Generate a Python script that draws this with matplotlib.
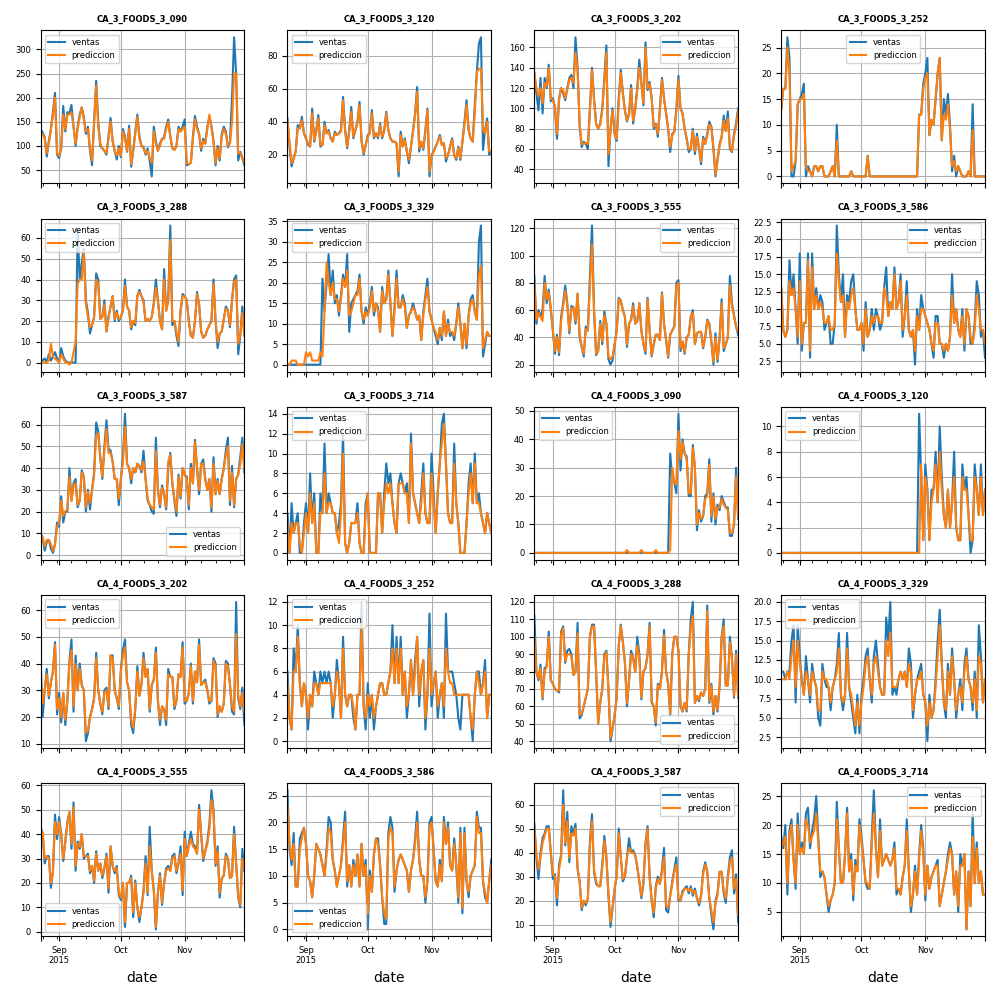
import matplotlib
matplotlib.use('Agg')
import matplotlib.pyplot as plt
import pandas as pd

plt.rcParams['xtick.labelsize'] = 6
plt.rcParams['ytick.labelsize'] = 6
plt.rcParams['legend.fontsize'] = 6

fechas = pd.date_range('2015-08-23', periods=100, freq='D')

productos = ['CA_3_FOODS_3_090', 'CA_3_FOODS_3_120', 'CA_3_FOODS_3_202', 'CA_3_FOODS_3_252',
             'CA_3_FOODS_3_288', 'CA_3_FOODS_3_329', 'CA_3_FOODS_3_555', 'CA_3_FOODS_3_586',
             'CA_3_FOODS_3_587', 'CA_3_FOODS_3_714', 'CA_4_FOODS_3_090', 'CA_4_FOODS_3_120',
             'CA_4_FOODS_3_202', 'CA_4_FOODS_3_252', 'CA_4_FOODS_3_288', 'CA_4_FOODS_3_329',
             'CA_4_FOODS_3_555', 'CA_4_FOODS_3_586', 'CA_4_FOODS_3_587', 'CA_4_FOODS_3_714']

# ventas reales / prediccion del modelo, 100 dias cada una
ventas_ca3_090 = [135, 128, 118, 78, 110, 135, 170, 210, 82, 75,
                  95, 183, 130, 170, 168, 185, 140, 100, 140, 165,
                  180, 160, 125, 140, 90, 60, 150, 235, 150, 100,
                  95, 90, 82, 120, 158, 110, 90, 72, 100, 77,
                  135, 120, 88, 142, 57, 90, 130, 165, 120, 100,
                  98, 82, 95, 70, 37, 140, 110, 90, 105, 115,
                  118, 140, 155, 120, 95, 92, 100, 140, 130, 140,
                  155, 60, 62, 65, 120, 162, 140, 125, 90, 115,
                  105, 140, 160, 140, 110, 60, 100, 70, 125, 140,
                  130, 97, 108, 200, 325, 250, 70, 88, 75, 60]
pred_ca3_090 = [120, 125, 115, 85, 105, 135, 165, 200, 85, 80,
                95, 165, 135, 165, 165, 170, 140, 105, 135, 160,
                180, 155, 130, 135, 95, 70, 150, 225, 140, 105,
                95, 90, 85, 115, 150, 110, 90, 80, 95, 80,
                130, 115, 90, 135, 62, 90, 125, 160, 115, 100,
                95, 85, 90, 75, 65, 130, 105, 90, 100, 115,
                115, 135, 150, 120, 95, 92, 100, 135, 130, 135,
                140, 65, 62, 65, 115, 155, 135, 125, 95, 110,
                105, 135, 165, 140, 110, 65, 95, 75, 120, 135,
                125, 100, 105, 150, 250, 250, 85, 85, 75, 65]

ventas_ca3_120 = [42, 25, 13, 18, 22, 38, 36, 43, 33, 30,
                  26, 25, 48, 28, 35, 44, 25, 26, 40, 33,
                  35, 30, 28, 34, 32, 33, 35, 55, 35, 24,
                  35, 49, 30, 35, 40, 52, 28, 20, 26, 32,
                  33, 47, 30, 33, 30, 39, 30, 35, 46, 35,
                  30, 28, 28, 27, 7, 34, 25, 30, 22, 15,
                  25, 35, 45, 61, 22, 28, 23, 35, 48, 7,
                  20, 22, 25, 28, 32, 26, 27, 16, 20, 25,
                  30, 20, 17, 25, 17, 28, 40, 53, 35, 30,
                  28, 50, 70, 87, 91, 23, 35, 42, 20, 22]
pred_ca3_120 = [40, 28, 15, 18, 22, 36, 36, 41, 33, 30,
                27, 25, 45, 29, 34, 42, 26, 26, 38, 33,
                34, 30, 28, 33, 32, 33, 34, 53, 35, 25,
                34, 46, 31, 35, 39, 50, 29, 21, 26, 31,
                33, 45, 31, 33, 31, 38, 31, 34, 45, 35,
                30, 28, 28, 27, 10, 32, 25, 29, 22, 17,
                25, 34, 44, 58, 24, 28, 24, 34, 47, 10,
                19, 22, 25, 28, 31, 26, 27, 18, 20, 25,
                29, 20, 18, 24, 18, 28, 38, 50, 35, 30,
                28, 45, 70, 72, 72, 35, 33, 40, 22, 22]

ventas_ca3_202 = [135, 115, 98, 130, 95, 130, 120, 143, 107, 110,
                  100, 70, 110, 120, 115, 108, 120, 130, 133, 120,
                  170, 140, 83, 62, 67, 65, 60, 100, 140, 110,
                  85, 80, 85, 100, 130, 162, 43, 80, 100, 75,
                  68, 110, 138, 115, 98, 87, 95, 123, 85, 100,
                  120, 148, 125, 103, 165, 118, 126, 110, 80, 85,
                  72, 100, 130, 110, 95, 80, 57, 75, 77, 100,
                  132, 100, 95, 80, 70, 57, 60, 80, 55, 75,
                  60, 45, 72, 65, 75, 87, 82, 60, 33, 50,
                  65, 72, 93, 78, 97, 60, 57, 75, 85, 100]
pred_ca3_202 = [135, 120, 112, 120, 105, 125, 122, 140, 110, 108,
                102, 75, 108, 120, 118, 110, 118, 128, 130, 125,
                155, 138, 85, 65, 65, 66, 65, 98, 138, 108,
                85, 80, 84, 98, 125, 155, 55, 78, 98, 75,
                70, 105, 135, 115, 98, 88, 93, 120, 88, 98,
                118, 140, 125, 105, 160, 120, 124, 110, 82, 84,
                75, 98, 128, 110, 95, 80, 62, 73, 77, 98,
                128, 100, 95, 80, 70, 60, 60, 78, 58, 72,
                62, 48, 70, 65, 73, 84, 82, 62, 35, 48,
                63, 72, 88, 78, 90, 62, 58, 73, 82, 98]

ventas_ca3_252 = [13, 17, 17, 27, 23, 0, 0, 3, 14, 15,
                  16, 18, 0, 2, 1, 0, 2, 2, 1, 2,
                  2, 0, 0, 0, 1, 2, 0, 10, 0, 0,
                  0, 0, 0, 0, 1, 0, 0, 0, 0, 0,
                  0, 0, 4, 0, 0, 0, 0, 0, 0, 0,
                  0, 0, 0, 0, 0, 0, 0, 0, 0, 0,
                  0, 0, 0, 0, 0, 0, 0, 12, 12, 18,
                  20, 23, 8, 11, 10, 15, 20, 23, 7, 15,
                  12, 16, 10, 1, 4, 0, 2, 1, 0, 0,
                  0, 1, 0, 14, 0, 0, 0, 0, 0, 0]
pred_ca3_252 = [13, 17, 17, 25, 20, 1, 2, 3, 14, 15,
                15, 16, 2, 1, 1, 0, 2, 2, 1, 2,
                2, 0, 0, 0, 1, 2, 0, 7, 0, 0,
                0, 0, 0, 0, 1, 0, 0, 0, 0, 0,
                0, 0, 4, 0, 0, 0, 0, 0, 0, 0,
                0, 0, 0, 0, 0, 0, 0, 0, 0, 0,
                0, 0, 0, 0, 0, 0, 0, 12, 12, 17,
                19, 20, 8, 11, 10, 15, 20, 23, 7, 12,
                11, 14, 9, 2, 3, 1, 2, 1, 0, 0,
                0, 1, 0, 9, 0, 0, 0, 0, 0, 0]

ventas_ca3_288 = [0, 1, 2, 0, 4, 1, 3, 5, 2, 0,
                  7, 3, 1, 0, 0, 0, 0, 0, 64, 40,
                  48, 55, 30, 24, 14, 18, 22, 43, 40, 21,
                  22, 30, 15, 22, 27, 32, 20, 25, 20, 22,
                  25, 40, 27, 25, 16, 20, 18, 32, 35, 32,
                  30, 20, 21, 20, 22, 29, 40, 30, 20, 16,
                  45, 25, 30, 66, 18, 20, 13, 8, 25, 33,
                  32, 30, 20, 13, 12, 20, 34, 28, 15, 12,
                  13, 16, 18, 20, 40, 20, 7, 14, 15, 21,
                  27, 25, 17, 30, 40, 42, 4, 13, 27, 13]
pred_ca3_288 = [1, 0, 0, 0, 1, 9, 3, 2, 1, 0,
                4, 2, 0, 0, -1, 0, 5, 10, 38, 40,
                40, 53, 28, 22, 17, 18, 22, 40, 38, 21,
                22, 28, 15, 22, 27, 32, 21, 24, 21, 22,
                25, 37, 27, 25, 17, 20, 19, 32, 34, 32,
                29, 20, 21, 20, 22, 28, 36, 30, 20, 16,
                40, 25, 30, 59, 20, 20, 15, 10, 25, 32,
                32, 30, 20, 13, 12, 20, 33, 28, 15, 12,
                13, 16, 18, 20, 38, 20, 10, 14, 15, 21,
                26, 25, 18, 30, 39, 40, 9, 13, 24, 13]

ventas_ca3_329 = [0, 0, 0, 0, 0, 0, 0, 0, 0, 0,
                  0, 0, 0, 0, 0, 0, 0, 21, 13, 20,
                  27, 17, 23, 15, 17, 12, 17, 22, 19, 27,
                  8, 15, 16, 17, 18, 22, 13, 10, 14, 12,
                  15, 19, 12, 15, 14, 8, 19, 15, 16, 23,
                  15, 7, 14, 23, 14, 14, 17, 15, 9, 12,
                  13, 15, 13, 11, 12, 6, 13, 17, 21, 13,
                  11, 9, 7, 5, 9, 6, 13, 7, 11, 7,
                  8, 6, 10, 15, 10, 4, 10, 4, 12, 16,
                  17, 13, 11, 30, 34, 2, 5, 8, 7, 7]
pred_ca3_329 = [0, 0, 1, 1, 1, 0, 0, 0, 0, 3,
                2, 3, 1, 1, 1, 1, 3, 2, 13, 25,
                20, 17, 20, 16, 16, 13, 16, 21, 19, 23,
                12, 13, 15, 17, 17, 21, 13, 11, 13, 12,
                14, 18, 13, 15, 13, 8, 18, 15, 16, 22,
                15, 7, 13, 21, 14, 14, 16, 14, 9, 12,
                13, 14, 13, 11, 12, 6, 12, 16, 19, 13,
                11, 9, 8, 6, 9, 7, 13, 7, 10, 8,
                8, 7, 10, 14, 10, 4, 10, 5, 12, 15,
                16, 13, 11, 22, 24, 4, 6, 8, 7, 7]

ventas_ca3_555 = [85, 50, 60, 55, 60, 85, 65, 75, 60, 45,
                  28, 42, 27, 55, 65, 78, 65, 43, 63, 62,
                  50, 72, 40, 33, 26, 48, 45, 85, 122, 60,
                  27, 30, 52, 35, 59, 50, 24, 20, 23, 35,
                  45, 69, 67, 60, 55, 33, 50, 53, 65, 50,
                  52, 65, 45, 35, 28, 69, 45, 26, 35, 42,
                  42, 38, 73, 50, 38, 25, 42, 45, 48, 80,
                  82, 30, 37, 28, 40, 42, 55, 60, 35, 43,
                  44, 44, 32, 40, 53, 50, 37, 20, 43, 22,
                  40, 68, 30, 35, 40, 85, 65, 56, 48, 42]
pred_ca3_555 = [80, 53, 58, 55, 52, 80, 68, 73, 62, 45,
                30, 40, 29, 52, 63, 74, 63, 45, 61, 62,
                52, 72, 42, 33, 28, 46, 45, 78, 108, 60,
                28, 30, 50, 37, 56, 50, 26, 24, 26, 35,
                44, 68, 67, 60, 55, 35, 50, 53, 63, 50,
                52, 65, 45, 35, 30, 68, 45, 27, 35, 42,
                42, 38, 72, 50, 38, 26, 42, 45, 48, 78,
                80, 32, 37, 29, 40, 42, 55, 58, 35, 43,
                44, 44, 33, 40, 52, 50, 37, 22, 40, 24,
                38, 65, 32, 35, 40, 78, 63, 56, 48, 44]

ventas_ca3_586 = [13, 7, 6, 7, 17, 12, 15, 10, 5, 18,
                  4, 8, 8, 18, 3, 18, 10, 13, 10, 12,
                  11, 7, 8, 9, 5, 5, 8, 22, 15, 11,
                  15, 6, 12, 11, 14, 15, 10, 7, 7, 8,
                  4, 11, 6, 7, 10, 7, 10, 9, 7, 8,
                  13, 16, 9, 11, 10, 16, 10, 11, 15, 6,
                  9, 14, 7, 6, 7, 2, 10, 7, 12, 10,
                  9, 8, 7, 5, 3, 9, 9, 5, 5, 3,
                  5, 4, 6, 15, 8, 10, 7, 6, 10, 4,
                  10, 9, 5, 5, 8, 14, 12, 6, 7, 3]
pred_ca3_586 = [13, 7, 6, 7, 14, 12, 13, 10, 6, 14,
                5, 8, 8, 17, 4, 16, 10, 12, 10, 11,
                10, 8, 8, 9, 7, 7, 8, 18, 14, 11,
                12, 6, 11, 10, 12, 13, 10, 7, 7, 8,
                5, 10, 6, 7, 9, 8, 9, 9, 8, 8,
                13, 12, 9, 11, 10, 15, 10, 11, 14, 7,
                9, 12, 7, 6, 7, 4, 9, 7, 10, 10,
                9, 8, 7, 5, 4, 8, 8, 5, 5, 4,
                5, 4, 6, 12, 8, 10, 7, 6, 9, 5,
                10, 9, 6, 5, 7, 12, 10, 7, 7, 5]

ventas_ca3_587 = [10, 8, 2, 6, 7, 3, 1, 5, 15, 13,
                  27, 15, 20, 20, 40, 25, 33, 35, 22, 25,
                  39, 36, 20, 30, 21, 30, 38, 61, 57, 45,
                  35, 50, 62, 49, 48, 43, 35, 35, 23, 35,
                  45, 65, 42, 40, 33, 40, 38, 42, 41, 38,
                  48, 35, 25, 23, 20, 19, 54, 30, 22, 32,
                  28, 21, 40, 47, 33, 25, 18, 37, 26, 40,
                  37, 36, 21, 42, 33, 53, 40, 28, 42, 44,
                  35, 30, 35, 20, 45, 28, 35, 28, 35, 40,
                  48, 54, 23, 41, 22, 35, 37, 45, 54, 38]
pred_ca3_587 = [10, 8, 4, 7, 7, 5, 2, 5, 13, 15,
                25, 18, 20, 21, 36, 25, 32, 33, 23, 25,
                38, 36, 22, 29, 24, 30, 37, 55, 56, 45,
                36, 48, 58, 47, 47, 43, 35, 35, 26, 35,
                43, 59, 42, 40, 35, 40, 38, 42, 41, 39,
                43, 35, 26, 23, 22, 21, 48, 30, 23, 31,
                28, 22, 43, 46, 33, 26, 20, 36, 27, 40,
                37, 35, 23, 40, 33, 52, 40, 30, 42, 42,
                35, 30, 35, 22, 42, 28, 34, 28, 35, 40,
                46, 50, 25, 38, 23, 35, 37, 42, 51, 40]

ventas_ca3_714 = [4, 0, 5, 2, 3, 4, 0, 0, 3, 5,
                  2, 8, 3, 6, 0, 0, 6, 4, 11, 4,
                  6, 5, 4, 4, 2, 3, 5, 12, 1, 0,
                  1, 3, 3, 3, 5, 1, 0, 0, 5, 6,
                  0, 0, 0, 0, 6, 6, 2, 6, 9, 7,
                  8, 5, 3, 2, 7, 8, 7, 6, 7, 3,
                  12, 6, 5, 4, 3, 6, 9, 4, 3, 3,
                  10, 6, 2, 6, 9, 13, 14, 9, 4, 3,
                  3, 11, 5, 3, 0, 0, 0, 3, 7, 9,
                  5, 10, 5, 6, 4, 3, 2, 4, 3, 2]
pred_ca3_714 = [3, 0, 3, 2, 3, 3, 1, 0, 2, 4,
                2, 6, 3, 5, 0, 0, 4, 4, 8, 4,
                5, 5, 4, 4, 2, 1, 4, 10, 1, 0,
                1, 3, 3, 3, 4, 1, 0, 0, 4, 6,
                0, 0, 0, 0, 6, 6, 2, 5, 7, 6,
                7, 5, 3, 2, 7, 7, 7, 6, 6, 3,
                11, 6, 5, 4, 3, 5, 8, 4, 3, 3,
                8, 5, 2, 6, 9, 11, 13, 9, 4, 3,
                3, 9, 5, 3, 0, 0, 0, 3, 6, 8,
                5, 9, 5, 5, 4, 3, 2, 4, 3, 2]

ventas_ca4_090 = [0, 0, 0, 0, 0, 0, 0, 0, 0, 0,
                  0, 0, 0, 0, 0, 0, 0, 0, 0, 0,
                  0, 0, 0, 0, 0, 0, 0, 0, 0, 0,
                  0, 0, 0, 0, 0, 0, 0, 0, 0, 0,
                  0, 0, 0, 0, 0, 0, 0, 0, 0, 0,
                  0, 0, 0, 0, 0, 0, 0, 0, 0, 0,
                  0, 0, 0, 0, 0, 0, 35, 26, 25, 21,
                  49, 29, 40, 35, 34, 20, 20, 38, 30, 8,
                  15, 11, 13, 20, 21, 33, 11, 21, 10, 17,
                  15, 20, 18, 16, 16, 6, 6, 10, 30, 12]
pred_ca4_090 = [0, 0, 0, 0, 0, 0, 0, 0, 0, 0,
                0, 0, 0, 0, 0, 0, 0, 0, 0, 0,
                0, 0, 0, 0, 0, 0, 0, 0, 0, 0,
                0, 0, 0, 0, 0, 0, 0, 0, 0, 0,
                0, 0, 0, 0, 0, 1, 0, 0, 0, 0,
                0, 0, 1, 0, 0, 0, 0, 0, 0, 1,
                0, 0, 0, 0, 0, 0, 1, 30, 25, 24,
                43, 33, 39, 35, 33, 21, 21, 37, 30, 10,
                14, 12, 13, 19, 20, 31, 13, 20, 12, 16,
                16, 19, 17, 16, 15, 7, 7, 10, 27, 13]

ventas_ca4_120 = [0, 0, 0, 0, 0, 0, 0, 0, 0, 0,
                  0, 0, 0, 0, 0, 0, 0, 0, 0, 0,
                  0, 0, 0, 0, 0, 0, 0, 0, 0, 0,
                  0, 0, 0, 0, 0, 0, 0, 0, 0, 0,
                  0, 0, 0, 0, 0, 0, 0, 0, 0, 0,
                  0, 0, 0, 0, 0, 0, 0, 0, 0, 0,
                  0, 0, 0, 0, 0, 0, 0, 11, 6, 1,
                  7, 5, 1, 5, 5, 8, 4, 10, 6, 3,
                  2, 5, 2, 4, 8, 2, 1, 1, 7, 5,
                  6, 3, 0, 1, 7, 5, 3, 7, 3, 5]
pred_ca4_120 = [0, 0, 0, 0, 0, 0, 0, 0, 0, 0,
                0, 0, 0, 0, 0, 0, 0, 0, 0, 0,
                0, 0, 0, 0, 0, 0, 0, 0, 0, 0,
                0, 0, 0, 0, 0, 0, 0, 0, 0, 0,
                0, 0, 0, 0, 0, 0, 0, 0, 0, 0,
                0, 0, 0, 0, 0, 0, 0, 0, 0, 0,
                0, 0, 0, 0, 0, 0, 0, 0, 7, 1,
                6, 5, 1, 4, 5, 7, 4, 8, 5, 3,
                2, 5, 2, 4, 6, 2, 1, 1, 6, 5,
                5, 3, 1, 1, 6, 5, 3, 6, 3, 5]

ventas_ca4_202 = [41, 20, 30, 38, 27, 33, 37, 48, 21, 29,
                  18, 29, 17, 26, 41, 49, 22, 43, 30, 40,
                  32, 30, 11, 14, 20, 23, 27, 44, 30, 25,
                  21, 30, 31, 23, 43, 43, 30, 27, 23, 38,
                  45, 49, 33, 30, 17, 14, 23, 39, 28, 32,
                  44, 35, 38, 22, 32, 34, 46, 26, 17, 24,
                  23, 17, 38, 35, 35, 23, 26, 36, 35, 48,
                  25, 26, 29, 40, 25, 37, 33, 49, 32, 33,
                  34, 30, 25, 26, 42, 40, 20, 24, 22, 25,
                  41, 40, 32, 22, 21, 63, 27, 23, 31, 17]
pred_ca4_202 = [35, 25, 30, 36, 28, 33, 37, 47, 23, 27,
                20, 29, 19, 26, 40, 45, 24, 40, 30, 38,
                32, 30, 14, 15, 20, 23, 27, 42, 30, 25,
                22, 29, 30, 24, 43, 42, 30, 27, 24, 37,
                43, 46, 33, 30, 19, 16, 23, 37, 28, 32,
                42, 35, 38, 23, 32, 34, 44, 26, 19, 24,
                23, 19, 36, 35, 35, 24, 26, 36, 35, 46,
                26, 26, 29, 39, 26, 37, 33, 47, 32, 33,
                33, 30, 26, 26, 41, 39, 21, 24, 22, 25,
                40, 39, 32, 24, 22, 51, 28, 24, 29, 22]

ventas_ca4_252 = [6, 2, 1, 8, 6, 10, 5, 3, 5, 4,
                  1, 4, 3, 6, 5, 4, 6, 5, 6, 5,
                  6, 5, 2, 4, 7, 5, 2, 9, 4, 3,
                  4, 4, 2, 1, 4, 4, 12, 3, 1, 5,
                  2, 4, 1, 3, 4, 5, 5, 4, 4, 5,
                  6, 10, 5, 9, 5, 9, 4, 6, 2, 4,
                  7, 4, 7, 9, 3, 6, 7, 1, 4, 11,
                  3, 5, 6, 2, 4, 5, 2, 11, 6, 6,
                  6, 5, 4, 2, 1, 4, 4, 4, 4, 2,
                  0, 4, 6, 6, 4, 5, 7, 2, 4, 4]
pred_ca4_252 = [5, 2, 1, 6, 6, 9, 5, 3, 5, 4,
                2, 4, 3, 5, 5, 4, 5, 5, 5, 5,
                5, 5, 3, 4, 6, 5, 2, 8, 4, 3,
                4, 4, 3, 1, 4, 4, 10, 3, 2, 4,
                3, 4, 2, 3, 4, 5, 5, 4, 4, 5,
                6, 8, 5, 8, 5, 8, 4, 6, 3, 4,
                7, 4, 6, 9, 4, 6, 7, 2, 4, 8,
                4, 5, 6, 3, 4, 5, 3, 8, 6, 5,
                5, 4, 4, 4, 4, 4, 4, 4, 4, 2,
                1, 4, 6, 5, 4, 5, 6, 2, 4, 4]

ventas_ca4_288 = [112, 80, 75, 84, 64, 82, 83, 103, 75, 73,
                  70, 69, 68, 103, 106, 85, 92, 93, 90, 78,
                  80, 108, 53, 55, 60, 65, 70, 100, 107, 107,
                  80, 50, 62, 70, 90, 92, 70, 40, 47, 55,
                  65, 95, 107, 97, 85, 60, 75, 92, 88, 80,
                  100, 90, 64, 80, 82, 90, 108, 62, 60, 49,
                  73, 70, 80, 104, 80, 73, 55, 90, 100, 100,
                  92, 60, 57, 62, 57, 90, 110, 120, 62, 66,
                  63, 68, 66, 70, 118, 62, 73, 55, 66, 57,
                  72, 100, 110, 72, 72, 100, 88, 65, 92, 65]
pred_ca4_288 = [100, 80, 76, 82, 65, 80, 83, 100, 75, 73,
                70, 69, 69, 101, 105, 86, 90, 90, 89, 78,
                80, 102, 55, 56, 60, 65, 70, 100, 106, 106,
                80, 50, 62, 70, 89, 91, 70, 42, 48, 55,
                65, 95, 106, 97, 85, 62, 75, 90, 88, 80,
                95, 88, 65, 80, 82, 90, 106, 63, 60, 51,
                72, 70, 80, 101, 80, 73, 56, 90, 100, 100,
                92, 60, 57, 62, 58, 90, 105, 112, 62, 66,
                64, 68, 66, 70, 115, 63, 72, 57, 66, 58,
                72, 100, 106, 72, 72, 97, 88, 66, 90, 66]

ventas_ca4_329 = [11, 11, 10, 11, 11, 15, 17, 7, 17, 13,
                  10, 8, 13, 10, 7, 12, 10, 9, 5, 4,
                  12, 10, 9, 9, 6, 9, 10, 12, 16, 8,
                  6, 8, 16, 9, 7, 5, 3, 8, 3, 8,
                  10, 13, 14, 10, 7, 13, 15, 12, 9, 8,
                  8, 18, 15, 20, 8, 9, 8, 10, 11, 10,
                  11, 9, 14, 12, 5, 8, 10, 11, 12, 8,
                  7, 2, 8, 5, 6, 10, 15, 19, 12, 7,
                  5, 12, 8, 14, 10, 5, 8, 10, 6, 12,
                  14, 10, 9, 6, 11, 5, 17, 13, 7, 10]
pred_ca4_329 = [10, 10, 10, 11, 10, 13, 15, 9, 15, 12,
                10, 8, 11, 10, 8, 11, 10, 9, 6, 6,
                11, 10, 10, 9, 7, 9, 10, 11, 14, 8,
                7, 8, 14, 9, 8, 6, 4, 7, 4, 7,
                9, 12, 13, 10, 8, 12, 13, 11, 9, 8,
                8, 15, 13, 16, 9, 9, 9, 10, 11, 10,
                11, 9, 12, 11, 6, 8, 10, 10, 11, 8,
                7, 4, 7, 5, 6, 9, 13, 17, 12, 7,
                6, 11, 8, 13, 10, 6, 8, 9, 7, 11,
                13, 10, 9, 7, 10, 6, 13, 12, 7, 10]

ventas_ca4_555 = [43, 40, 28, 31, 31, 18, 25, 48, 38, 47,
                  40, 29, 37, 45, 49, 34, 53, 25, 37, 34,
                  40, 30, 31, 32, 24, 27, 20, 33, 25, 28,
                  22, 26, 32, 16, 35, 27, 24, 27, 15, 13,
                  20, 2, 20, 20, 23, 6, 21, 10, 4, 10,
                  17, 31, 15, 43, 25, 17, 1, 16, 24, 11,
                  20, 26, 27, 25, 31, 32, 24, 28, 35, 15,
                  41, 31, 36, 41, 36, 35, 32, 52, 40, 29,
                  33, 37, 44, 58, 50, 27, 35, 14, 22, 23,
                  32, 30, 22, 23, 43, 28, 14, 10, 34, 25]
pred_ca4_555 = [40, 41, 30, 31, 30, 20, 24, 45, 40, 45,
                40, 30, 37, 44, 49, 36, 51, 27, 36, 35,
                40, 31, 31, 31, 25, 27, 21, 32, 25, 28,
                23, 26, 31, 18, 35, 27, 25, 26, 16, 14,
                20, 4, 20, 20, 22, 8, 20, 10, 6, 10,
                16, 28, 16, 35, 25, 17, 2, 16, 23, 12,
                20, 25, 26, 25, 30, 31, 25, 28, 32, 17,
                38, 31, 35, 38, 35, 34, 32, 50, 40, 30,
                33, 36, 42, 54, 50, 28, 33, 16, 22, 23,
                31, 30, 22, 23, 40, 28, 15, 11, 30, 26]

ventas_ca4_586 = [26, 15, 12, 18, 8, 8, 17, 18, 19, 16,
                  10, 9, 6, 10, 16, 15, 14, 12, 10, 15,
                  21, 20, 13, 11, 8, 10, 12, 17, 22, 8,
                  12, 8, 13, 10, 14, 8, 16, 10, 13, 0,
                  11, 7, 14, 17, 17, 12, 6, 1, 1, 18,
                  21, 19, 7, 11, 13, 14, 13, 12, 11, 7,
                  11, 13, 17, 22, 13, 10, 10, 5, 9, 20,
                  21, 15, 9, 8, 13, 9, 21, 16, 20, 12,
                  11, 17, 12, 5, 19, 3, 19, 9, 6, 10,
                  11, 12, 22, 19, 19, 9, 6, 5, 9, 13]
pred_ca4_586 = [23, 16, 13, 16, 8, 8, 15, 17, 19, 16,
                10, 9, 6, 10, 16, 15, 14, 12, 10, 14,
                19, 18, 13, 11, 8, 10, 12, 16, 20, 9,
                12, 8, 12, 10, 14, 8, 16, 10, 12, 3,
                10, 7, 14, 17, 16, 12, 6, 3, 2, 17,
                19, 18, 8, 11, 13, 14, 13, 12, 11, 7,
                11, 13, 16, 20, 13, 10, 10, 6, 9, 19,
                20, 15, 9, 8, 12, 9, 20, 16, 19, 12,
                11, 16, 12, 6, 18, 4, 18, 9, 7, 10,
                11, 12, 21, 18, 18, 9, 7, 5, 9, 12]

ventas_ca4_587 = [52, 38, 29, 40, 46, 48, 51, 51, 40, 29,
                  31, 18, 35, 39, 66, 43, 57, 36, 51, 48,
                  52, 33, 28, 16, 20, 18, 21, 45, 56, 32,
                  27, 26, 26, 35, 47, 38, 22, 9, 17, 25,
                  30, 50, 38, 28, 30, 38, 46, 40, 41, 39,
                  34, 28, 21, 27, 44, 51, 30, 20, 13, 26,
                  30, 27, 33, 42, 16, 15, 22, 28, 33, 38,
                  20, 20, 24, 25, 26, 23, 26, 22, 25, 21,
                  18, 22, 32, 36, 32, 21, 14, 8, 20, 23,
                  32, 32, 23, 19, 30, 38, 41, 23, 31, 11]
pred_ca4_587 = [50, 40, 33, 38, 44, 47, 50, 50, 40, 31,
                30, 21, 33, 38, 60, 44, 53, 38, 48, 47,
                50, 34, 28, 17, 20, 19, 21, 43, 53, 33,
                28, 26, 26, 34, 45, 38, 23, 11, 17, 25,
                30, 48, 38, 29, 30, 38, 42, 40, 40, 39,
                34, 28, 22, 28, 43, 50, 30, 20, 15, 25,
                29, 27, 32, 38, 18, 17, 22, 27, 32, 35,
                21, 20, 23, 25, 25, 24, 25, 23, 24, 21,
                19, 22, 31, 35, 32, 21, 16, 11, 19, 22,
                32, 32, 24, 21, 29, 36, 38, 25, 29, 14]

ventas_ca4_714 = [18, 16, 20, 8, 19, 21, 14, 9, 22, 15,
                  17, 15, 22, 23, 16, 19, 21, 25, 18, 11,
                  12, 11, 8, 5, 7, 8, 10, 24, 16, 10,
                  10, 15, 23, 12, 15, 7, 14, 12, 21, 18,
                  14, 10, 9, 9, 18, 26, 16, 11, 21, 13,
                  14, 15, 14, 13, 14, 17, 8, 9, 8, 11,
                  13, 21, 12, 5, 8, 13, 8, 15, 20, 16,
                  7, 13, 9, 11, 12, 13, 14, 6, 8, 10,
                  12, 15, 17, 15, 8, 12, 5, 15, 13, 15,
                  2, 12, 6, 22, 10, 17, 10, 12, 8, 8]
pred_ca4_714 = [16, 17, 18, 10, 18, 20, 14, 10, 20, 15,
                16, 15, 21, 20, 17, 18, 19, 22, 17, 12,
                12, 11, 8, 6, 7, 8, 10, 21, 16, 10,
                10, 15, 22, 12, 14, 8, 13, 12, 20, 17,
                14, 10, 10, 9, 17, 22, 16, 11, 19, 13,
                14, 15, 14, 13, 14, 16, 9, 9, 8, 11,
                13, 19, 12, 6, 8, 12, 8, 14, 19, 15,
                8, 13, 9, 11, 12, 13, 13, 6, 8, 10,
                12, 14, 16, 15, 8, 12, 6, 13, 13, 15,
                2, 12, 6, 18, 10, 16, 10, 12, 8, 8]

ventas = [ventas_ca3_090, ventas_ca3_120, ventas_ca3_202, ventas_ca3_252,
          ventas_ca3_288, ventas_ca3_329, ventas_ca3_555, ventas_ca3_586,
          ventas_ca3_587, ventas_ca3_714, ventas_ca4_090, ventas_ca4_120,
          ventas_ca4_202, ventas_ca4_252, ventas_ca4_288, ventas_ca4_329,
          ventas_ca4_555, ventas_ca4_586, ventas_ca4_587, ventas_ca4_714]
predicciones = [pred_ca3_090, pred_ca3_120, pred_ca3_202, pred_ca3_252,
                pred_ca3_288, pred_ca3_329, pred_ca3_555, pred_ca3_586,
                pred_ca3_587, pred_ca3_714, pred_ca4_090, pred_ca4_120,
                pred_ca4_202, pred_ca4_252, pred_ca4_288, pred_ca4_329,
                pred_ca4_555, pred_ca4_586, pred_ca4_587, pred_ca4_714]

legend_locs = ['upper left', 'upper left', 'upper right', 'upper center',
               'upper left', 'upper left', 'upper right', 'upper right',
               'lower right', 'upper left', 'upper left', 'upper left',
               'upper left', 'upper left', 'lower right', 'upper left',
               'lower left', 'lower left', 'upper right', 'upper right']

fig, axes = plt.subplots(5, 4, figsize=(10, 10), sharex=True)

for ax, nombre, v, p, loc in zip(axes.flat, productos, ventas, predicciones, legend_locs):
    df = pd.DataFrame({'ventas': v, 'prediccion': p},
                      index=pd.Index(fechas, name='date'))
    df.plot(ax=ax, grid=True)
    ax.set_title(nombre, fontsize=6, fontweight='bold')
    ax.legend(loc=loc)

for ax in axes[:-1].flat:
    ax.set_xlabel('')
for ax in axes[-1]:
    ax.set_xlabel('date', fontsize=10)

plt.tight_layout()
plt.savefig('out.png', dpi=100)
